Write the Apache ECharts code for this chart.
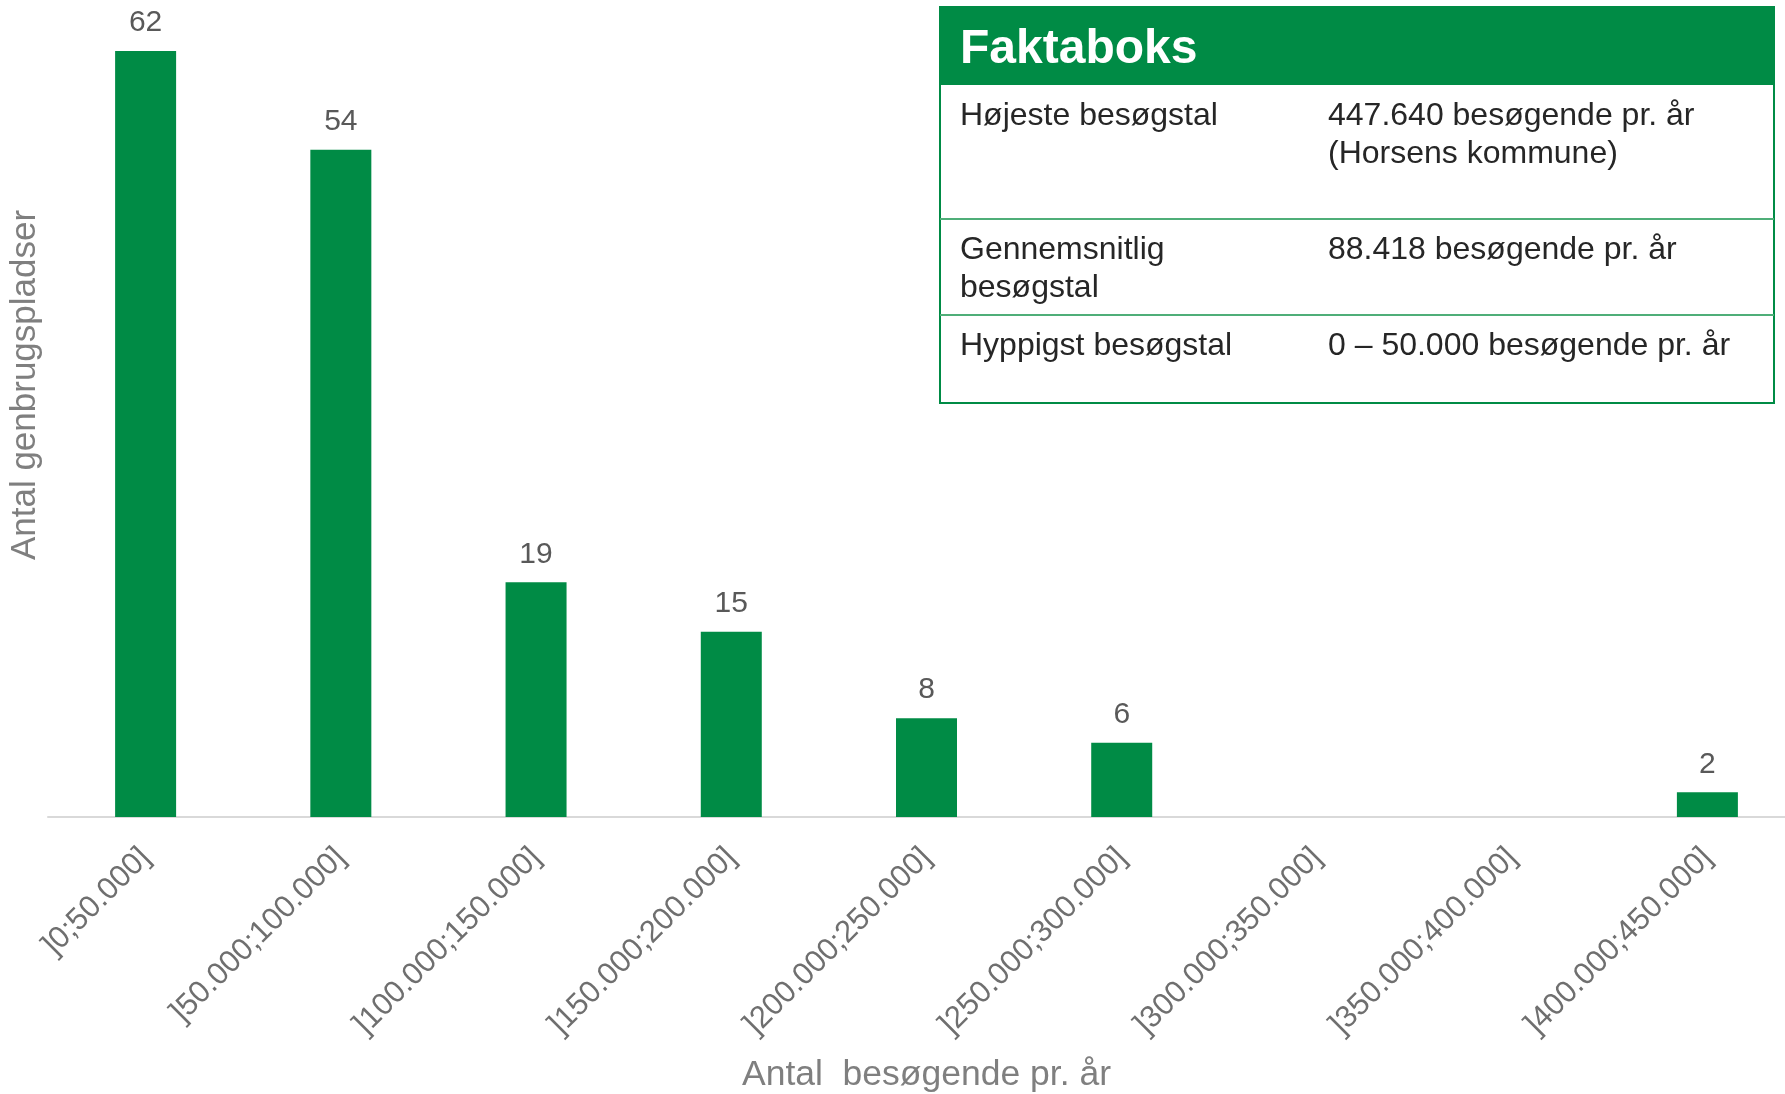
<!DOCTYPE html>
<html>
<head>
<meta charset="utf-8">
<script src="https://cdn.jsdelivr.net/npm/echarts@6/dist/echarts.min.js"></script>
<style>
  html, body { margin: 0; padding: 0; background: #fff; overflow: hidden; }
  /* plotområdet fortsætter lidt ud over billedets højre kant */
  #chart { width: 1805px; height: 1094px; }
</style>
</head>
<body>
<div id="chart"></div>
<script>
// intervaller (antal besøgende pr. år)
var categories = [
  ']0;50.000]', ']50.000;100.000]', ']100.000;150.000]', ']150.000;200.000]',
  ']200.000;250.000]', ']250.000;300.000]', ']300.000;350.000]',
  ']350.000;400.000]', ']400.000;450.000]'
];
// antal genbrugspladser i hvert interval
var counts = [62, 54, 19, 15, 8, 6, 0, 0, 2];

// faktaboks rækker
var factLabels = [['Højeste besøgstal'], ['Gennemsnitlig', 'besøgstal'], ['Hyppigst besøgstal']];
var factValues = [['447.640 besøgende pr. år', '(Horsens kommune)'], ['88.418 besøgende pr. år'], ['0 – 50.000 besøgende pr. år']];

var green = '#008B45';
var font = '"Liberation Sans", Arial, sans-serif';

var chart = echarts.init(document.getElementById('chart'));

// byg faktaboksen som grafik
var box = { x: 940, y: 7, w: 834, h: 396, head: 78 };
var rowTops = [85, 219, 315, 403];
var graphics = [
  { type: 'rect', shape: { x: box.x, y: box.y, width: box.w, height: box.h },
    style: { fill: '#fff', stroke: green, lineWidth: 2 } },
  { type: 'rect', shape: { x: box.x, y: box.y, width: box.w, height: box.head },
    style: { fill: green } },
  { type: 'text', x: 960, y: 50, style: { text: 'Faktaboks', fill: '#fff', font: 'bold 48px ' + font,
    textVerticalAlign: 'middle' } }
];
for (var i = 1; i < 3; i++) {
  graphics.push({ type: 'line', shape: { x1: box.x, y1: rowTops[i], x2: box.x + box.w, y2: rowTops[i] },
    style: { stroke: '#4fae78', lineWidth: 2 } });
}
for (var r = 0; r < 3; r++) {
  graphics.push({ type: 'text', x: 960, y: rowTops[r] + 12, style: {
    text: factLabels[r].join('\n'), fill: '#262626', font: '32px ' + font, lineHeight: 38 } });
  graphics.push({ type: 'text', x: 1328, y: rowTops[r] + 12, style: {
    text: factValues[r].join('\n'), fill: '#262626', font: '32px ' + font, lineHeight: 38 } });
}
graphics.push({ type: 'text', x: 25, y: 385, rotation: Math.PI / 2, style: {
  text: 'Antal genbrugspladser', fill: '#7f7f7f', font: '35px ' + font,
  textAlign: 'center', textVerticalAlign: 'middle' } });

var option = {
  animation: false,
  grid: { left: 48, top: 51, right: 0, height: 766, outerBoundsMode: 'none' },
  xAxis: {
    type: 'category',
    data: categories,
    name: 'Antal  besøgende pr. år',
    nameLocation: 'middle',
    nameGap: 240,
    nameTextStyle: { color: '#7f7f7f', fontSize: 35.5, fontFamily: font },
    axisLine: { lineStyle: { color: '#d9d9d9', width: 2 } },
    axisTick: { show: false },
    axisLabel: { rotate: 45, interval: 0, margin: 36, color: '#6f6f6f', fontSize: 31, fontFamily: font }
  },
  yAxis: { type: 'value', min: 0, max: 62, show: false },
  series: [{
    type: 'bar',
    data: counts,
    barWidth: 61,
    itemStyle: { color: green },
    label: {
      show: true, position: 'top', distance: 13,
      color: '#595959', fontSize: 30, fontFamily: font,
      formatter: function (p) { return p.value ? p.value : ''; }
    }
  }],
  graphic: graphics
};
chart.setOption(option);
</script>
</body>
</html>
